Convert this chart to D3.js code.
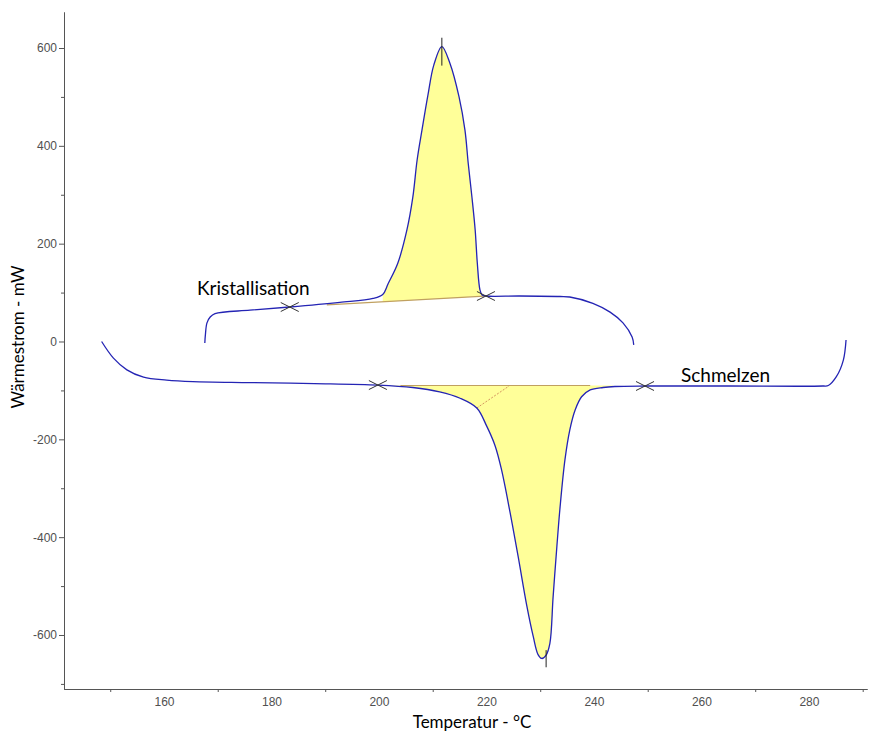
<!DOCTYPE html>
<html>
<head>
<meta charset="utf-8">
<title>DSC Kurve</title>
<script src="https://cdn.jsdelivr.net/npm/d3@7"></script>
<style>
  body { margin: 0; background: #fff; }
  .tick text { font-family: "Liberation Sans", Arial, sans-serif; font-size: 12px; fill: #505050; }
  .axis path, .axis line { stroke: #555; }
</style>
</head>
<body>
<script>
// heating run (Schmelzen), temperature in °C and heat flow in mW
var heatTemp = [148.4, 150.6, 153.1, 156.2, 160.5, 165.4, 176.0, 188.0, 199.8, 206.3,
                211.3, 215.1, 218.2, 220.0, 221.6, 222.8, 224.4, 225.9, 227.5, 228.7,
                229.6, 230.3, 231.1, 231.8, 232.4, 233.1, 233.7, 234.6, 235.5, 236.5,
                237.7, 239.3, 241.7, 243.9, 249.5, 265.0, 282.6, 283.6, 285.1, 286.4, 286.9];
var heatFlow = [0, -34, -58, -73, -79, -82, -84, -86, -89, -94,
                -103, -116, -136, -172, -213, -262, -350, -440, -540, -603,
                -640, -648, -641, -617, -522, -419, -338, -242, -181, -140,
                -113, -99, -94, -92, -91, -91, -91, -90, -72, -38, 3];

// cooling run (Kristallisation)
var coolTemp = [167.6, 167.7, 168.0, 168.6, 169.5, 176.0, 183.4, 192.7, 198.9, 200.7,
                201.7, 203.5, 205.2, 206.3, 207.1, 208.0, 209.1, 210.2, 211.7, 213.2,
                214.9, 216.0, 216.6, 217.3, 217.9, 218.3, 218.8, 219.2, 219.9, 226.2,
                233.7, 235.5, 239.8, 243.0, 245.4, 247.1, 247.4];
var coolFlow = [-3, 13, 38, 50, 57, 64, 70.5, 80, 88, 96,
                118, 160, 228, 295, 371, 432, 503, 565, 603, 569,
                500, 432, 365, 295, 228, 160, 105, 95, 93, 93,
                92, 91, 78, 60, 38, 9, -7];

// integration limits and baselines
var coolBase = [[183.4, 70.5], [219.9, 93]];
var coolFillRange = [200.7, 219.2];
var coolBaseDraw = [190.3, 219.6];
var heatBase = -90;
var heatFillRange = [201, 243.5];
var heatBaseDraw = [204, 239.3];
var tangentLine = [[218.2, -136], [224.2, -91]];

// markers
var crossTemp = [183.4, 219.9, 199.8, 249.5];
var crossFlow = [70.5, 93, -89, -91];
var peakTemp = [211.7, 231.1];
var peakFlow = [[621, 564], [-631, -666]];

// axis ticks
var xLabels = [160, 180, 200, 220, 240, 260, 280];
var xMinor = [150, 170, 190, 210, 230, 250, 270, 290];
var yLabels = [-600, -400, -200, 0, 200, 400, 600];
var yMinor = [-700, -500, -300, -100, 100, 300, 500];

var annotations = [["Kristallisation", 197, 295], ["Schmelzen", 681, 382]];

const w = 869;
const h = 731;
const padLeft = 64;
const padRight = 867;
const padTop = 12;
const padBottom = 689;

var svg = d3.select("body").append("svg")
            .attr("width", w)
            .attr("height", h);

var xScale = d3.scaleLinear().domain([141.4, 290.8]).range([padLeft, padRight]);
var yScale = d3.scaleLinear().domain([-710.4, 673.6]).range([padBottom, padTop]);

var heat = heatTemp.map(function(t, i) { return [t, heatFlow[i]]; });
var cool = coolTemp.map(function(t, i) { return [t, coolFlow[i]]; });

function coolBaseAt(t) {
  var a = coolBase[0], b = coolBase[1];
  return a[1] + (b[1] - a[1]) * (t - a[0]) / (b[0] - a[0]);
}

// points of a curve inside a range, with the end points interpolated
function slice(data, range) {
  var out = [];
  for (var i = 0; i < data.length - 1; i++) {
    var p = data[i], q = data[i + 1];
    if (p[0] <= range[0] && q[0] > range[0]) {
      out.push([range[0], p[1] + (q[1] - p[1]) * (range[0] - p[0]) / (q[0] - p[0])]);
    }
    if (q[0] > range[0] && q[0] < range[1]) out.push(q);
    if (p[0] < range[1] && q[0] >= range[1]) {
      out.push([range[1], p[1] + (q[1] - p[1]) * (range[1] - p[0]) / (q[0] - p[0])]);
    }
  }
  return out;
}

// yellow integration areas
var coolArea = d3.area()
    .x(function(d) { return xScale(d[0]); })
    .y0(function(d) { return yScale(coolBaseAt(d[0])); })
    .y1(function(d) { return yScale(d[1]); })
    .curve(d3.curveCatmullRom);
var heatArea = d3.area()
    .x(function(d) { return xScale(d[0]); })
    .y0(yScale(heatBase))
    .y1(function(d) { return yScale(d[1]); })
    .curve(d3.curveCatmullRom);

svg.append("path").attr("d", coolArea(slice(cool, coolFillRange)))
   .attr("fill", "#ffff99");
svg.append("path").attr("d", heatArea(slice(heat, heatFillRange)))
   .attr("fill", "#ffff99");

// baselines
svg.append("line")
   .attr("x1", xScale(coolBaseDraw[0])).attr("y1", yScale(coolBaseAt(coolBaseDraw[0])))
   .attr("x2", xScale(coolBaseDraw[1])).attr("y2", yScale(coolBaseAt(coolBaseDraw[1])))
   .attr("stroke", "#c0a060").attr("stroke-width", 1.2);
svg.append("line")
   .attr("x1", xScale(heatBaseDraw[0])).attr("y1", yScale(heatBase))
   .attr("x2", xScale(heatBaseDraw[1])).attr("y2", yScale(heatBase))
   .attr("stroke", "#c0a060").attr("stroke-width", 1.2);
svg.append("line")
   .attr("x1", xScale(tangentLine[0][0])).attr("y1", yScale(tangentLine[0][1]))
   .attr("x2", xScale(tangentLine[1][0])).attr("y2", yScale(tangentLine[1][1]))
   .attr("stroke", "#c87850").attr("stroke-width", 0.8)
   .attr("stroke-dasharray", "2,1.5");

// measurement curves
var line = d3.line()
    .x(function(d) { return xScale(d[0]); })
    .y(function(d) { return yScale(d[1]); })
    .curve(d3.curveCatmullRom);

svg.selectAll(".curve")
   .data([heat, cool])
   .enter()
   .append("path")
   .attr("class", "curve")
   .attr("d", line)
   .attr("fill", "none")
   .attr("stroke", "#2424b4")
   .attr("stroke-width", 1.3);

// cross markers at the integration limits
svg.selectAll(".cross")
   .data(crossTemp)
   .enter()
   .append("path")
   .attr("class", "cross")
   .attr("d", function(d, i) {
      var x = xScale(d), y = yScale(crossFlow[i]);
      return "M" + (x - 9) + "," + (y - 4.5) + "L" + (x + 9) + "," + (y + 4.5) +
             "M" + (x - 9) + "," + (y + 4.5) + "L" + (x + 9) + "," + (y - 4.5);
   })
   .attr("stroke", "#333")
   .attr("stroke-width", 1)
   .attr("fill", "none");

// peak markers
svg.selectAll(".peak")
   .data(peakTemp)
   .enter()
   .append("line")
   .attr("class", "peak")
   .attr("x1", function(d) { return xScale(d); })
   .attr("x2", function(d) { return xScale(d); })
   .attr("y1", function(d, i) { return yScale(peakFlow[i][0]); })
   .attr("y2", function(d, i) { return yScale(peakFlow[i][1]); })
   .attr("stroke", "#222")
   .attr("stroke-width", 1);

// plain hyphen for negative labels, like the original software
var fmt = function(d) { return String(d); };

// x axis
svg.append("g")
   .attr("class", "axis")
   .attr("transform", "translate(0," + padBottom + ")")
   .call(d3.axisBottom(xScale).tickValues(xLabels).tickSize(0).tickSizeOuter(0)
           .tickPadding(8).tickFormat(fmt));
svg.append("g")
   .attr("class", "axis")
   .attr("transform", "translate(0," + padBottom + ")")
   .call(d3.axisBottom(xScale).tickValues(xMinor).tickSize(3).tickSizeOuter(0).tickFormat(""));

// y axis
svg.append("g")
   .attr("class", "axis")
   .attr("transform", "translate(" + padLeft + ",0)")
   .call(d3.axisLeft(yScale).tickValues(yLabels).tickSize(5).tickSizeOuter(0)
           .tickPadding(2).tickFormat(fmt));
svg.append("g")
   .attr("class", "axis")
   .attr("transform", "translate(" + padLeft + ",0)")
   .call(d3.axisLeft(yScale).tickValues(yMinor).tickSize(3).tickSizeOuter(0).tickFormat(""));

// axis titles
svg.append("text")
   .attr("x", 472)
   .attr("y", 728)
   .style("text-anchor", "middle")
   .style("font-family", "Lato")
   .style("font-size", "17px")
   .text("Temperatur - °C");

svg.append("text")
   .attr("transform", "rotate(-90)")
   .attr("x", -337)
   .attr("y", 24)
   .style("text-anchor", "middle")
   .style("font-family", "Lato")
   .style("font-size", "17px")
   .text("Wärmestrom - mW");

// annotations
svg.selectAll(".note")
   .data(annotations)
   .enter()
   .append("text")
   .attr("class", "note")
   .attr("x", function(d) { return d[1]; })
   .attr("y", function(d) { return d[2]; })
   .style("font-family", "Lato")
   .style("font-size", "19px")
   .text(function(d) { return d[0]; });
</script>
</body>
</html>
